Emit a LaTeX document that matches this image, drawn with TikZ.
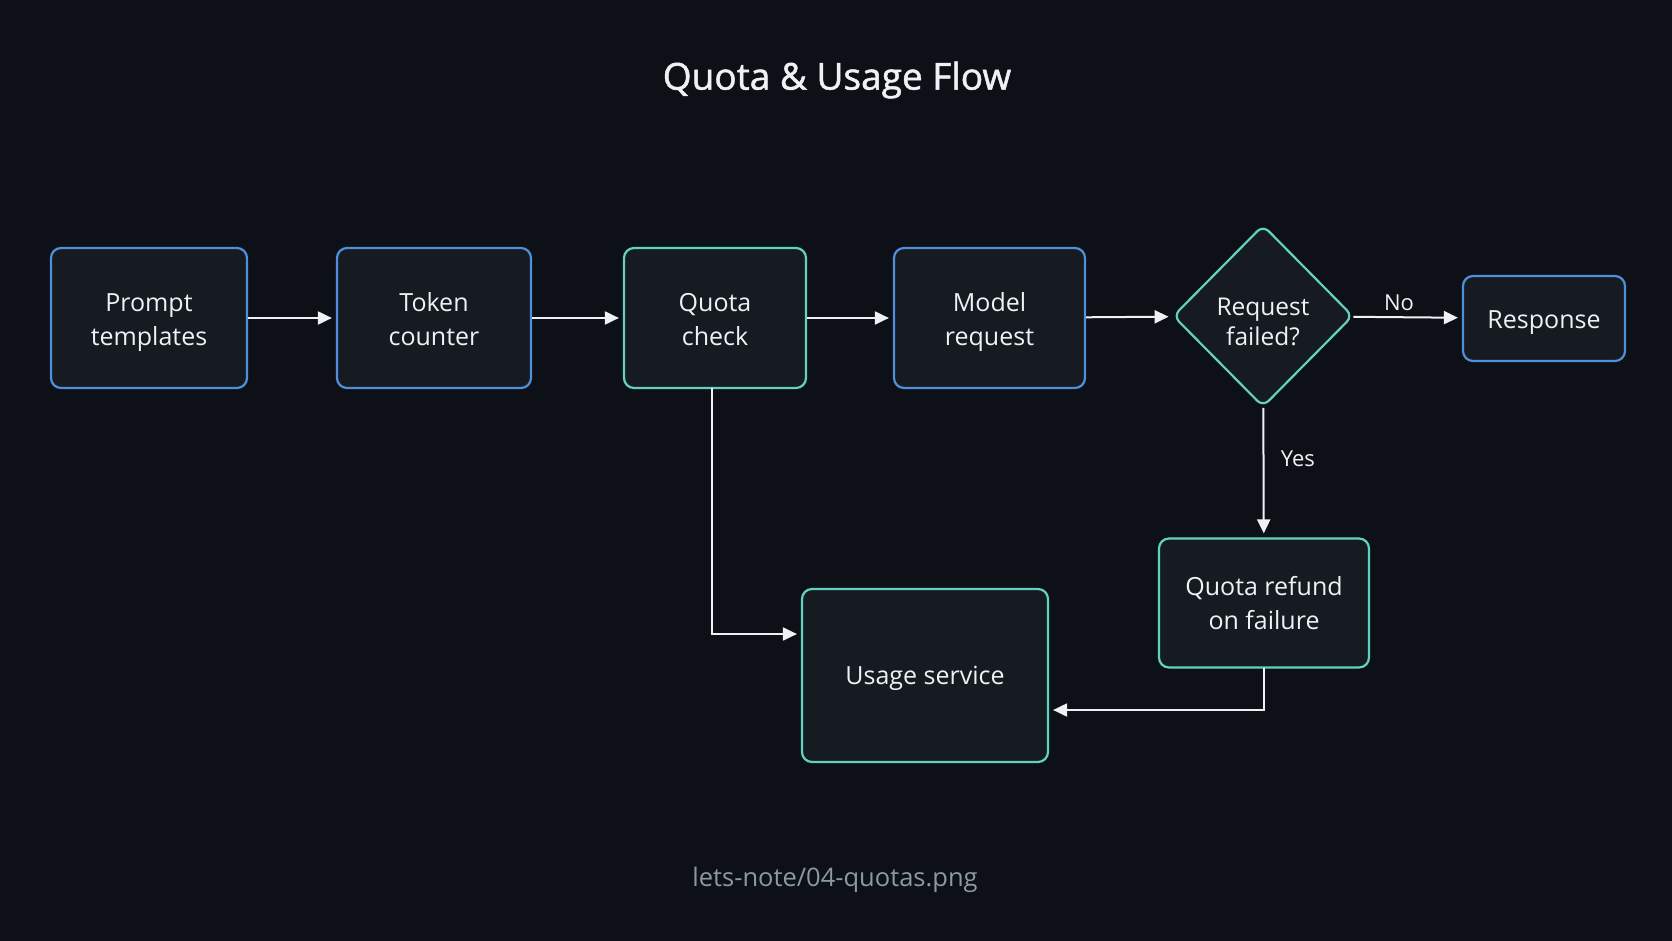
\documentclass[tikz,border=0pt]{standalone}
\usepackage{fontspec}
\setmainfont{Open Sans}
\newfontfamily\titlefont[FakeBold=1.3]{Open Sans}
\usetikzlibrary{arrows.meta,shapes.geometric}
\definecolor{bg}{HTML}{0D1117}
\definecolor{boxfill}{HTML}{161B22}
\definecolor{blueb}{HTML}{4F8FDB}
\definecolor{tealb}{HTML}{62D2BF}
\definecolor{txt}{HTML}{EEF2F5}
\definecolor{foot}{HTML}{8A9A9E}
\newcommand\lowtxt[1]{\rule{0pt}{#1}}
\tikzset{
  x=1pt,y=1pt,
  boxb/.style={draw=blueb,fill=boxfill,line width=2.2pt,rounded corners=10pt,text=txt,align=center,font=\fontsize{25}{34}\selectfont,inner sep=0pt},
  boxt/.style={boxb,draw=tealb},
  decide/.style={diamond,draw=tealb,fill=boxfill,line width=2.2pt,rounded corners=8pt,text=txt,align=center,font=\fontsize{24.5}{30}\selectfont,inner sep=0pt,minimum width=180pt,minimum height=182pt},
  conn/.style={draw=txt,line width=2pt,-{Triangle[length=14pt,width=13pt]},shorten >=4pt},
  lbl/.style={text=txt,font=\fontsize{22}{24}\selectfont},
}
\begin{document}
\begin{tikzpicture}
\fill[bg] (0,0) rectangle (1672,-941);
\useasboundingbox (0,0) rectangle (1672,-941);
\node[text=txt,font=\fontsize{37}{42}\titlefont] (title) at (837,-80) {Quota \& Usage Flow};
\node[boxb,minimum width=196pt,minimum height=140pt] (pt) at (149,-318) {\lowtxt{27pt}Prompt\\templates};
\node[boxb,minimum width=194pt,minimum height=140pt] (tc) at (434,-318) {\lowtxt{21pt}Token\\counter};
\node[boxt,minimum width=182pt,minimum height=140pt] (qc) at (715,-318) {\lowtxt{21pt}Quota\\check};
\node[boxb,minimum width=191pt,minimum height=140pt] (mr) at (989.5,-318) {\lowtxt{27pt}Model\\request};
\node[decide] (rf) at (1263,-316) {\lowtxt{30pt}Request\\failed?};
\node[boxb,minimum width=162pt,minimum height=85pt] (resp) at (1544,-318.5) {\lowtxt{27pt}Response};
\node[boxt,minimum width=210pt,minimum height=129pt] (qr) at (1264,-603) {Quota refund\\on failure};
\node[boxt,minimum width=246pt,minimum height=173pt] (us) at (925,-675.5) {\lowtxt{23pt}Usage service};
\node[text=foot,font=\fontsize{25.5}{28}\selectfont] (ft) at (835,-880) {lets-note/04-quotas.png};
\draw[conn] (pt) -- (tc);
\draw[conn] (tc) -- (qc);
\draw[conn] (qc) -- (mr);
\draw[conn] (mr) -- (rf);
\draw[conn] (rf) -- node[lbl,above=2pt,pos=0.42] (no) {No} (resp);
\draw[conn] (rf) -- node[lbl,right=13pt,pos=0.39] (yes) {Yes} (qr);
\coordinate (qcb) at (712,-388);
\draw[conn] (qcb) |- (us.west |- 0,-634);
\coordinate (qrb) at (1264,-667.5);
\draw[conn] (qrb) |- (us.east |- 0,-710);
\end{tikzpicture}
\end{document}
